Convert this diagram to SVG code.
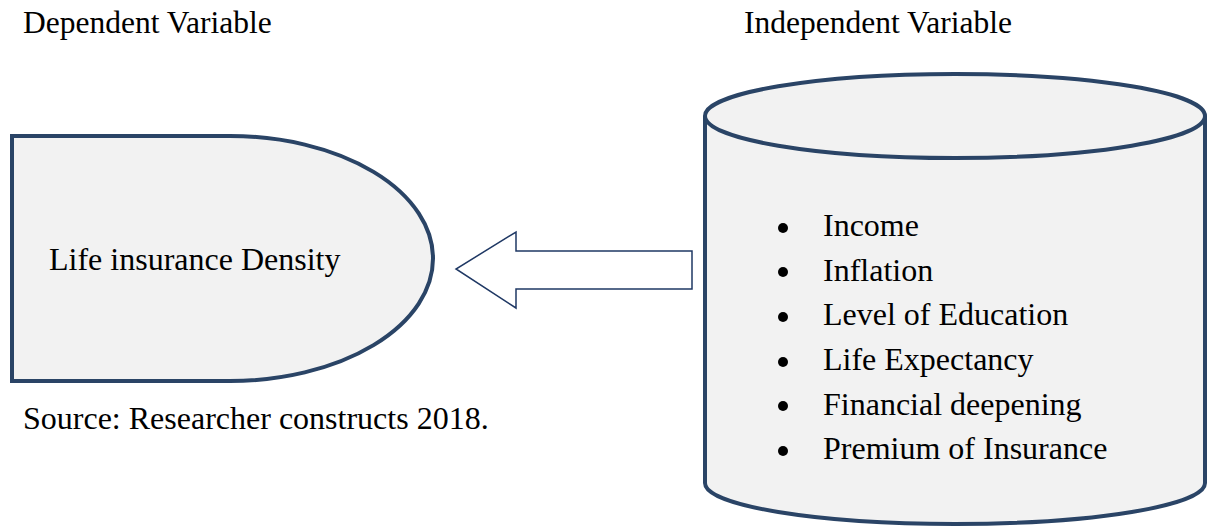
<svg xmlns="http://www.w3.org/2000/svg" width="1207" height="527" viewBox="0 0 1207 527">
<style>
text{font-family:"Liberation Serif","Times New Roman",serif;font-size:32px;fill:#000}
.title{font-size:31.5px}
.shape{fill:#f2f2f2;stroke:#2a4466;stroke-width:4}
.arrow{fill:#fff;stroke:#1f3864;stroke-width:1.5}
</style>
<rect width="1207" height="527" fill="#fff"/>
<text class="title" x="23" y="33">Dependent Variable</text>
<text class="title" x="744" y="33">Independent Variable</text>
<g id="dependent">
<path class="shape" d="M12 136 H230 A203 122.5 0 0 1 230 381 H12 Z"/>
<text x="49" y="270">Life insurance Density</text>
</g>
<text x="23" y="429">Source: Researcher constructs 2018.</text>
<g id="connectors">
<path class="arrow" d="M692 251 H516 V232 L456 269 L516 308 V289 H692 Z"/>
</g>
<g id="independent">
<path class="shape" d="M705 116 V483 A250 41 0 0 0 1205 483 V116"/>
<ellipse class="shape" cx="955" cy="116" rx="250" ry="42"/>
<g fill="#000">
<circle cx="783" cy="228" r="5"/>
<circle cx="783" cy="272" r="5"/>
<circle cx="783" cy="317" r="5"/>
<circle cx="783" cy="362" r="5"/>
<circle cx="783" cy="406" r="5"/>
<circle cx="783" cy="451" r="5"/>
</g>
<text x="823" y="236">Income</text>
<text x="823" y="281">Inflation</text>
<text x="823" y="325">Level of Education</text>
<text x="823" y="370">Life Expectancy</text>
<text x="823" y="415">Financial deepening</text>
<text x="823" y="459">Premium of Insurance</text>
</g>
</svg>
